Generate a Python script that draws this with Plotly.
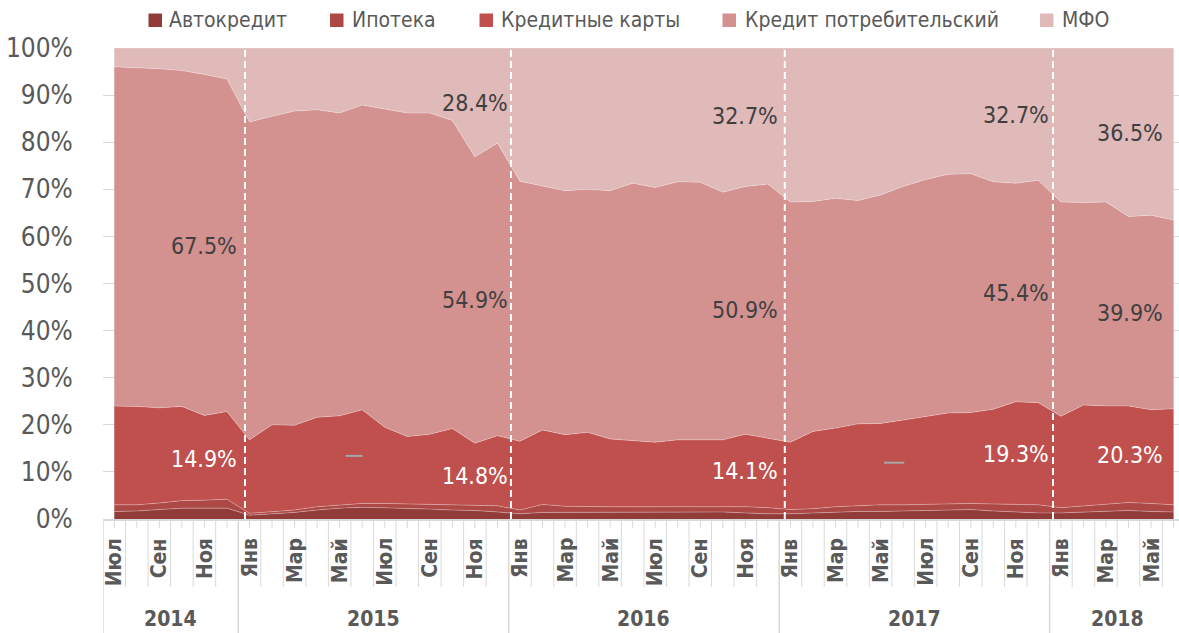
import plotly.graph_objects as go

# ---------------- data ----------------
month_labels = ["Июл", "Авг", "Сен", "Окт", "Ноя", "Дек",
                "Янв", "Фев", "Мар", "Апр", "Май", "Июн", "Июл", "Авг", "Сен", "Окт", "Ноя", "Дек",
                "Янв", "Фев", "Мар", "Апр", "Май", "Июн", "Июл", "Авг", "Сен", "Окт", "Ноя", "Дек",
                "Янв", "Фев", "Мар", "Апр", "Май", "Июн", "Июл", "Авг", "Сен", "Окт", "Ноя", "Дек",
                "Янв", "Фев", "Мар", "Апр", "Май", "Июн"]
years = ["2014", "2015", "2016", "2017", "2018"]
year_start = [0, 6, 18, 30, 42]
year_end = [5, 17, 29, 41, 47]
y_ticks = [0, 10, 20, 30, 40, 50, 60, 70, 80, 90, 100]
y_tick_text = ["0%", "10%", "20%", "30%", "40%", "50%", "60%", "70%", "80%", "90%", "100%"]

auto = [1.6, 1.7, 2.0, 2.3, 2.3, 2.3,
        0.8, 1.1, 1.4, 1.9, 2.3, 2.5, 2.4, 2.3, 2.1, 1.9, 1.8, 1.5,
        1.1, 1.4, 1.4, 1.5, 1.5, 1.5, 1.5, 1.5, 1.5, 1.5, 1.3, 1.1,
        1.1, 1.3, 1.5, 1.6, 1.6, 1.7, 1.8, 1.9, 2.0, 1.7, 1.5, 1.3,
        1.3, 1.5, 1.7, 1.8, 1.6, 1.5]
mortgage = [1.4, 1.3, 1.4, 1.6, 1.7, 1.9,
            0.4, 0.4, 0.5, 0.7, 0.7, 0.8, 0.9, 0.9, 1.0, 1.1, 1.1, 1.3,
            0.8, 1.7, 1.3, 1.1, 1.1, 1.1, 1.1, 1.1, 1.0, 1.0, 1.3, 1.3,
            0.9, 0.9, 1.1, 1.2, 1.4, 1.3, 1.3, 1.4, 1.3, 1.5, 1.6, 1.7,
            1.1, 1.3, 1.5, 1.7, 1.7, 1.5]
cards = [21.0, 20.9, 20.2, 20.0, 18.0, 18.6,
         15.6, 18.5, 18.0, 19.0, 18.9, 19.9, 16.2, 14.3, 14.9, 16.2, 13.2, 14.9,
         14.6, 15.8, 15.2, 15.8, 14.4, 14.1, 13.7, 14.2, 14.3, 14.3, 15.4, 14.8,
         14.3, 16.4, 16.7, 17.4, 17.3, 18.0, 18.7, 19.2, 19.3, 20.1, 21.8, 21.7,
         19.4, 21.4, 20.8, 20.5, 19.9, 20.4]
consumer = [72.0, 71.9, 72.0, 71.3, 72.4, 70.6,
            67.5, 65.5, 66.7, 65.3, 64.3, 64.7, 67.5, 68.7, 68.2, 65.4, 60.8, 62.1,
            55.2, 51.8, 51.8, 51.6, 52.7, 54.6, 54.1, 54.8, 54.7, 52.6, 52.6, 53.9,
            51.0, 48.8, 48.8, 47.4, 48.5, 49.6, 50.3, 50.7, 50.7, 48.3, 46.4, 47.2,
            45.5, 43.0, 43.3, 40.2, 41.3, 40.1]
mfo = [4.0, 4.2, 4.4, 4.8, 5.6, 6.6,
       15.7, 14.5, 13.4, 13.1, 13.8, 12.1, 13.0, 13.8, 13.8, 15.4, 23.1, 20.2,
       28.3, 29.3, 30.3, 30.0, 30.3, 28.7, 29.6, 28.4, 28.5, 30.6, 29.4, 28.9,
       32.7, 32.6, 31.9, 32.4, 31.2, 29.4, 27.9, 26.8, 26.7, 28.4, 28.7, 28.1,
       32.7, 32.8, 32.7, 35.8, 35.5, 36.5]

series_names = ["Автокредит", "Ипотека", "Кредитные карты", "Кредит потребительский", "МФО"]
series_values = [auto, mortgage, cards, consumer, mfo]
series_colors = ["#923C3A", "#AC4846", "#C0504D", "#D39190", "#E0B9B9"]

label_text = ["67.5%", "14.9%", "28.4%", "54.9%", "14.8%", "32.7%", "50.9%", "14.1%",
              "32.7%", "45.4%", "19.3%", "36.5%", "39.9%", "20.3%"]
label_x = [4, 4, 16, 16, 16, 28, 28, 28, 40, 40, 40, 45.07, 45.07, 45.07]
label_y = [58.0, 12.7, 88.3, 46.5, 9.1, 85.6, 44.4, 10.2, 85.7, 48.0, 13.8, 82.0, 43.7, 13.6]
label_white = [False, True, False, False, True, False, False, True, False, False, True, False, False, True]

# ---------------- layout constants ----------------
W, H = 1179, 633
L, R, T, B = 103, 0, 48, 114
FONT = "Liberation Sans Narrow, Arial Narrow, DejaVu Sans Condensed, sans-serif"
GRAY = "#595959"
LINE = "#D9D9D9"
n = len(month_labels)
x = list(range(n))


def py(p):  # pixel y -> paper y
    return (H - B - p) / (H - T - B)


def px(p):  # pixel x -> paper x
    return (p - L) / (W - L - R)


fig = go.Figure()
for i, (nm, vals, col) in enumerate(zip(series_names, series_values, series_colors)):
    fig.add_trace(go.Scatter(
        x=x, y=vals, name=nm, mode="lines", stackgroup="one",
        groupnorm="percent" if i == 0 else None,
        line=dict(width=0.8, color="rgba(255,255,255,0.35)"),
        fillcolor=col, showlegend=False, hoverinfo="skip"))

shapes = []
annotations = []

# dashed white year separators inside plot
for xv in [5.8, 17.6, 29.75, 41.65]:
    shapes.append(dict(type="line", xref="x", yref="paper", x0=xv, x1=xv, y0=0, y1=1,
                       line=dict(color="white", width=2, dash="7px,4px"), layer="above"))

# stray grey marks
for (xa, xb, yv) in [(10.27, 11.02, 13.4), (34.15, 35.05, 11.95)]:
    shapes.append(dict(type="line", xref="x", yref="y", x0=xa, x1=xb, y0=yv, y1=yv,
                       line=dict(color="#A6A6A6", width=2), layer="above"))

# category axis lines
for k in range(n):
    shapes.append(dict(type="line", xref="x", yref="paper", x0=k, x1=k,
                       y0=py(519), y1=py(528), line=dict(color=LINE, width=1)))
boundaries_year = [-0.5, 5.5, 17.5, 29.5, 41.5]
for k in range(n):
    b = k + 0.5
    if b in boundaries_year:
        continue
    shapes.append(dict(type="line", xref="x", yref="paper", x0=b, x1=b,
                       y0=py(519), y1=py(587), line=dict(color=LINE, width=1)))
for b in boundaries_year:
    shapes.append(dict(type="line", xref="x", yref="paper", x0=b, x1=b,
                       y0=py(519), y1=py(633), line=dict(color=LINE, width=1.5)))

# month labels (every other)
for k in range(0, n, 2):
    annotations.append(dict(x=k, y=py(536), xref="x", yref="paper", text=month_labels[k],
                            textangle=-90, xanchor="center", yanchor="top", showarrow=False,
                            font=dict(family=FONT, size=21, color=GRAY, weight="bold")))
# year labels
for yr, s, e in zip(years, year_start, year_end):
    annotations.append(dict(x=(s + e) / 2, y=py(619), xref="x", yref="paper", text=yr,
                            xanchor="center", yanchor="middle", showarrow=False,
                            font=dict(family=FONT, size=21, color=GRAY, weight="bold")))

# data labels
for t, xv, yv, wht in zip(label_text, label_x, label_y, label_white):
    annotations.append(dict(x=xv, y=yv, xref="x", yref="y", text=t, showarrow=False,
                            xanchor="center", yanchor="middle",
                            font=dict(family=FONT, size=23, color="white" if wht else "#404040")))

# legend (manual)
leg_marker_x = [148.5, 330, 479.5, 722.5, 1040]
leg_text_x = [167, 349.5, 499, 743, 1059.5]
for nm, col, mx, tx in zip(series_names, series_colors, leg_marker_x, leg_text_x):
    shapes.append(dict(type="rect", xref="paper", yref="paper", x0=px(mx), x1=px(mx + 13.5),
                       y0=py(27), y1=py(13.5), fillcolor=col, line=dict(width=0)))
    annotations.append(dict(x=px(tx), y=py(20), xref="paper", yref="paper", text=nm,
                            xanchor="left", yanchor="middle", showarrow=False,
                            font=dict(family=FONT, size=21, color=GRAY)))

fig.update_layout(
    width=W, height=H, margin=dict(l=L, r=R, t=T, b=B),
    paper_bgcolor="white", plot_bgcolor="white",
    shapes=shapes, annotations=annotations, showlegend=False,
    xaxis=dict(range=[-0.5, 47.24], showticklabels=False, showgrid=False, zeroline=False,
               showline=True, linecolor=LINE, linewidth=1.5, fixedrange=True),
    yaxis=dict(range=[0, 100], tickmode="array", tickvals=y_ticks, ticktext=y_tick_text,
               showgrid=True, gridcolor=LINE, gridwidth=1, zeroline=False,
               tickfont=dict(family=FONT, size=26, color=GRAY),
               ticks="outside", ticklen=24, tickcolor="rgba(0,0,0,0)", fixedrange=True),
)

fig.write_html("out.html", config={"displayModeBar": False},
               post_script="document.body.style.margin='0';document.body.style.padding='0';"
                           "document.body.style.overflow='hidden';")
